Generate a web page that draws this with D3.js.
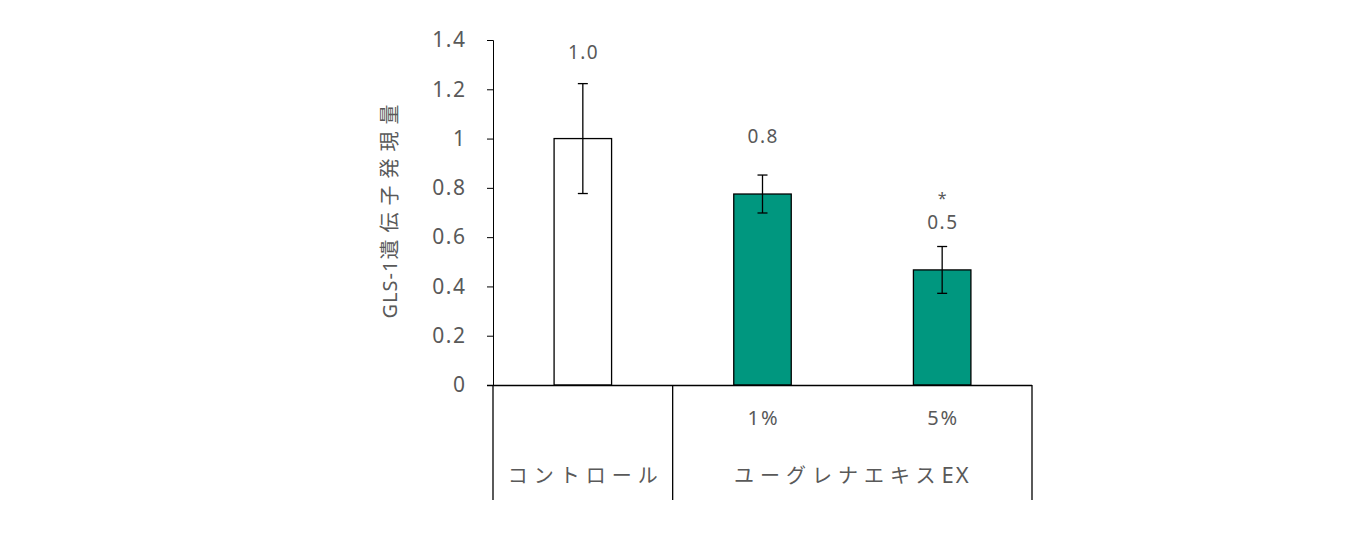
<!DOCTYPE html>
<html><head><meta charset="utf-8">
<script src="https://cdn.jsdelivr.net/npm/d3@7"></script>
<style>body{margin:0;background:#fff}text{font-family:"Noto Sans CJK JP","Noto Sans",sans-serif;fill:#595959}</style>
</head><body>
<svg id="c" width="1355" height="549"></svg>
<script>
const categories = ["control", "1%", "5%"];
const subLabels = ["", "1%", "5%"];
const groups = [{kana: "コントロール", latin: "", cats: ["control"]}, {kana: "ユーグレナエキス", latin: "EX", cats: ["1%", "5%"]}];
const values = [1.0, 0.775, 0.467];
const errors = [0.223, 0.077, 0.095];
const valueLabels = ["1.0", "0.8", "0.5"];
const labelPos = [1.35, 1.01, 0.66];
const marks = ["", "", "*"];
const yTicks = [0, 0.2, 0.4, 0.6, 0.8, 1, 1.2, 1.4];
const fills = ["#ffffff", "#00977f", "#00977f"];

const svg = d3.select("#c");
const x = d3.scaleBand().domain(categories).range([493, 1032]).paddingInner(0.68).paddingOuter(0.34);
const y = d3.scaleLinear().domain([0, 1.4]).range([385, 40]);
const g = svg.append("g");

// y axis
const ya = g.append("g").attr("transform", "translate(493,0)")
  .call(d3.axisLeft(y).tickValues(yTicks).tickSize(6).tickPadding(22).tickFormat(d => String(d)));
ya.select(".domain").attr("stroke", "#000").attr("d", "M-6,40.5H0.5V385.5");
ya.selectAll(".tick line").attr("stroke", "#000");
ya.selectAll(".tick text").style("font-size", "21px").style("letter-spacing", "1.5px").attr("fill", "#595959")
  .attr("dx", "1.5px").style("font-family", "'Noto Sans',sans-serif");

// bars
g.selectAll("rect.bar").data(categories).join("rect")
  .attr("x", d => x(d)).attr("width", x.bandwidth())
  .attr("y", (d, i) => y(values[i])).attr("height", (d, i) => y(0) - y(values[i]))
  .attr("fill", (d, i) => fills[i]).attr("stroke", "#000").attr("stroke-width", 1.3);

// error bars
categories.forEach((c, i) => {
  const cx = x(c) + x.bandwidth() / 2;
  const t = y(values[i] + errors[i]), b = y(values[i] - errors[i]);
  g.append("line").attr("x1", cx).attr("x2", cx).attr("y1", t).attr("y2", b).attr("stroke", "#000").attr("stroke-width", 1.3);
  [t, b].forEach(yy => g.append("line").attr("x1", cx - 5).attr("x2", cx + 5).attr("y1", yy).attr("y2", yy).attr("stroke", "#000").attr("stroke-width", 1.3));
  g.append("text").attr("x", cx + 0.75).attr("y", y(labelPos[i])).attr("dy", "0.35em").attr("text-anchor", "middle")
    .style("font-size", "19px").style("letter-spacing", "1.5px").style("font-family", "'Noto Sans',sans-serif").text(valueLabels[i]);
  if (marks[i]) g.append("text").attr("x", cx).attr("y", y(labelPos[i]) - 18).attr("text-anchor", "middle")
    .style("font-size", "16px").style("font-family", "'Noto Sans',sans-serif").text(marks[i]);
});

// x axis line
g.append("line").attr("x1", 487).attr("x2", 1032).attr("y1", y(0) + 0.5).attr("y2", y(0) + 0.5).attr("stroke", "#000").attr("stroke-width", 1.3);

// category table
const step = x.step();
let start = 0;
const bounds = [493];
const ls = 6;
groups.forEach(gr => {
  const x0 = 493 + start * step;
  const x1 = x0 + gr.cats.length * step;
  bounds.push(x1);
  const t = g.append("text").attr("x", (x0 + x1) / 2 + (gr.latin ? 0 : ls / 2)).attr("y", 476).attr("dy", "0.35em").attr("text-anchor", "middle")
    .style("font-size", "20px");
  t.append("tspan").style("letter-spacing", ls + "px").text(gr.kana);
  if (gr.latin) t.append("tspan").style("letter-spacing", "2px").style("font-size", "22px").style("font-family", "'Noto Sans',sans-serif").text(gr.latin);
  start += gr.cats.length;
});
bounds.forEach(bx => g.append("line").attr("x1", bx).attr("x2", bx).attr("y1", y(0)).attr("y2", 500).attr("stroke", "#000").attr("stroke-width", 1.3));
categories.forEach((c, i) => {
  if (subLabels[i]) g.append("text").attr("x", x(c) + x.bandwidth() / 2 + 1).attr("y", 418).attr("dy", "0.35em")
    .attr("text-anchor", "middle").style("font-size", "20px").style("letter-spacing", "2px")
    .style("font-family", "'Noto Sans',sans-serif").text(subLabels[i]);
});

// y title
const yt = svg.append("text").attr("transform", "translate(390,208) rotate(-90)").attr("text-anchor", "middle").attr("dy", "0.35em")
  .style("font-size", "20px");
yt.append("tspan").style("letter-spacing", "1px").style("font-family", "'Noto Sans',sans-serif").text("GLS-1");
yt.append("tspan").style("letter-spacing", "7px").text("遺伝子発現量");
</script>
</body></html>
